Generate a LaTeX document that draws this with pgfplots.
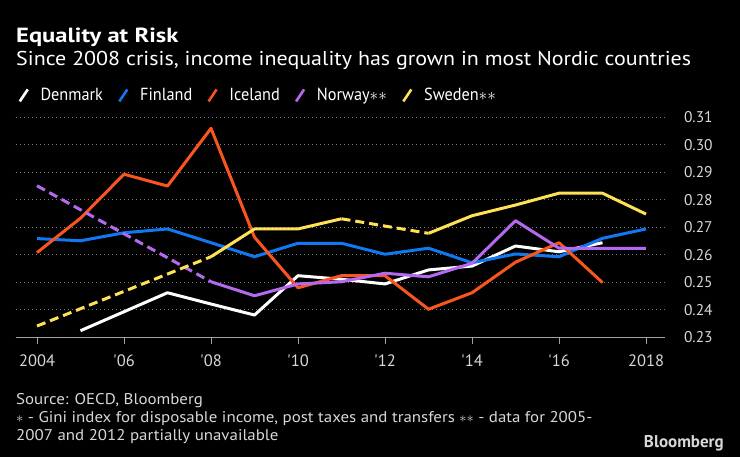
\documentclass[border=0pt]{standalone}
\usepackage{pgfplots}
\pgfplotsset{compat=1.18}
\usepackage{fontspec}
\setmainfont{PT Sans}
\newfontfamily\titlefont{PT Sans}[FakeStretch=1.2]
\newfontfamily\subfont{PT Sans}[FakeStretch=1.1]
\newfontfamily\legfont{PT Sans}[FakeStretch=0.93]
\newfontfamily\footfont{PT Sans}[FakeStretch=1.09]
\definecolor{cDen}{RGB}{255,255,255}
\definecolor{cFin}{RGB}{16,120,240}
\definecolor{cIce}{RGB}{250,85,30}
\definecolor{cNor}{RGB}{180,105,240}
\definecolor{cSwe}{RGB}{255,225,85}
\definecolor{gridc}{RGB}{120,120,120}
\definecolor{axisc}{RGB}{160,160,160}
\definecolor{labc}{RGB}{215,215,215}
\begin{document}
\begin{tikzpicture}[x=1pt,y=1pt]
\fill[black] (0,0) rectangle (740,-457);
\path[use as bounding box] (0,0) rectangle (740,-457);
\node[anchor=base west, inner sep=0, text=white, font=\titlefont\fontsize{20.5}{20.5}\selectfont\bfseries] at (16,-43) {Equality at Risk};
\node[anchor=base west, inner sep=0, text=white, font=\subfont\fontsize{20}{20}\selectfont] at (16,-66) {Since 2008 crisis, income inequality has grown in most Nordic countries};
\begin{axis}[
  at={(16pt,-337.3pt)}, anchor=south west,
  scale only axis, width=649pt, height=220pt,
  xmin=2003.517, xmax=2018.437, ymin=0.23, ymax=0.31,
  axis x line=bottom, axis y line=right,
  axis line style={-},
  x axis line style={axisc, line width=1pt},
  y axis line style={draw=none},
  xtick={2004,2006,...,2018},
  xticklabels={2004,\textquotesingle06,\textquotesingle08,\textquotesingle10,\textquotesingle12,\textquotesingle14,\textquotesingle16,2018},
  ytick={0.23,0.24,...,0.315},
  tick align=outside,
  major tick length=6.5pt,
  x tick style={axisc, line width=1pt},
  y tick style={draw=none},
  ymajorgrids,
  grid style={gridc, line width=1.1pt, dash pattern=on 1.1pt off 2.9pt},
  yticklabel style={anchor=west, xshift=9pt, text=labc, font=\fontsize{15.5}{15.5}\selectfont,
    /pgf/number format/.cd, fixed, fixed zerofill, precision=2, assume math mode=true},
  xticklabel style={text=labc, font=\fontsize{16.5}{16.5}\selectfont, yshift=-7pt},
  legend style={draw=none, fill=none, text=white, font=\legfont\fontsize{17.5}{17.5}\selectfont,
    at={(axis description cs:0.0035,1.0995)}, anchor=west, inner sep=0pt,
    nodes={inner sep=0pt},
    /tikz/every odd column/.append style={column sep=11.5pt},
    /tikz/every even column/.append style={column sep=15pt}},
  legend columns=-1,
  legend image code/.code={\draw[#1] (0pt,-6pt) -- (8pt,6pt);},
  every axis plot/.append style={line width=3pt, line join=round},
]
\addlegendimage{cDen, line width=2.6pt}\addlegendentry{Denmark}
\addlegendimage{cFin, line width=2.6pt}\addlegendentry{Finland}
\addlegendimage{cIce, line width=2.6pt}\addlegendentry{Iceland}
\addlegendimage{cNor, line width=2.6pt}\addlegendentry{Norway$\ast\ast$}
\addlegendimage{cSwe, line width=2.6pt}\addlegendentry{Sweden$\ast\ast$}
% Denmark
\addplot[cDen, forget plot] coordinates {(2005,0.2324)(2007,0.2462)(2008,0.2421)(2009,0.2381)(2010,0.2524)(2011,0.2511)(2012,0.2494)(2013,0.2545)(2014,0.2559)(2015,0.2632)(2016,0.2611)(2017,0.2644)};
% Finland
\addplot[cFin, forget plot] coordinates {(2004,0.2659)(2005,0.2651)(2006,0.2680)(2007,0.2694)(2008,0.2644)(2009,0.2593)(2010,0.2642)(2011,0.2642)(2012,0.2602)(2013,0.2624)(2014,0.2571)(2015,0.2603)(2016,0.2593)(2017,0.2660)(2018,0.2694)};
% Iceland
\addplot[cIce, forget plot] coordinates {(2004,0.2608)(2005,0.2733)(2006,0.2893)(2007,0.2850)(2008,0.3060)(2009,0.2664)(2010,0.2480)(2011,0.2524)(2012,0.2524)(2013,0.2402)(2014,0.2462)(2015,0.2573)(2016,0.2644)(2017,0.2499)};
% Norway
\addplot[cNor, forget plot, dash pattern=on 9pt off 5pt] coordinates {(2004,0.2851)(2008,0.2502)};
\addplot[cNor, forget plot] coordinates {(2008,0.2502)(2009,0.2451)(2010,0.2494)(2011,0.2502)(2012,0.2533)(2013,0.2520)(2014,0.2569)(2015,0.2724)(2016,0.2624)(2017,0.2623)(2018,0.2623)};
% Sweden
\addplot[cSwe, forget plot, dash pattern=on 9pt off 5pt] coordinates {(2004,0.2341)(2008,0.2593)};
\addplot[cSwe, forget plot] coordinates {(2008,0.2593)(2009,0.2694)(2010,0.2694)(2011,0.2731)};
\addplot[cSwe, forget plot, dash pattern=on 9pt off 5pt] coordinates {(2011,0.2731)(2013,0.2678)};
\addplot[cSwe, forget plot] coordinates {(2013,0.2678)(2014,0.2742)(2015,0.2781)(2016,0.2824)(2017,0.2824)(2018,0.2748)};
\end{axis}
\node[anchor=base west, inner sep=0, text=labc, align=left, font=\footfont\fontsize{15.5}{18}\selectfont] at (16,-441) {Source: OECD, Bloomberg\\$\ast$ - Gini index for disposable income, post taxes and transfers $\ast\ast$ - data for 2005-\\2007 and 2012 partially unavailable};
\node[anchor=base east, inner sep=0, text=labc, font=\fontsize{17}{17}\selectfont\bfseries] at (724,-447) {Bloomberg};
\end{tikzpicture}
\end{document}
